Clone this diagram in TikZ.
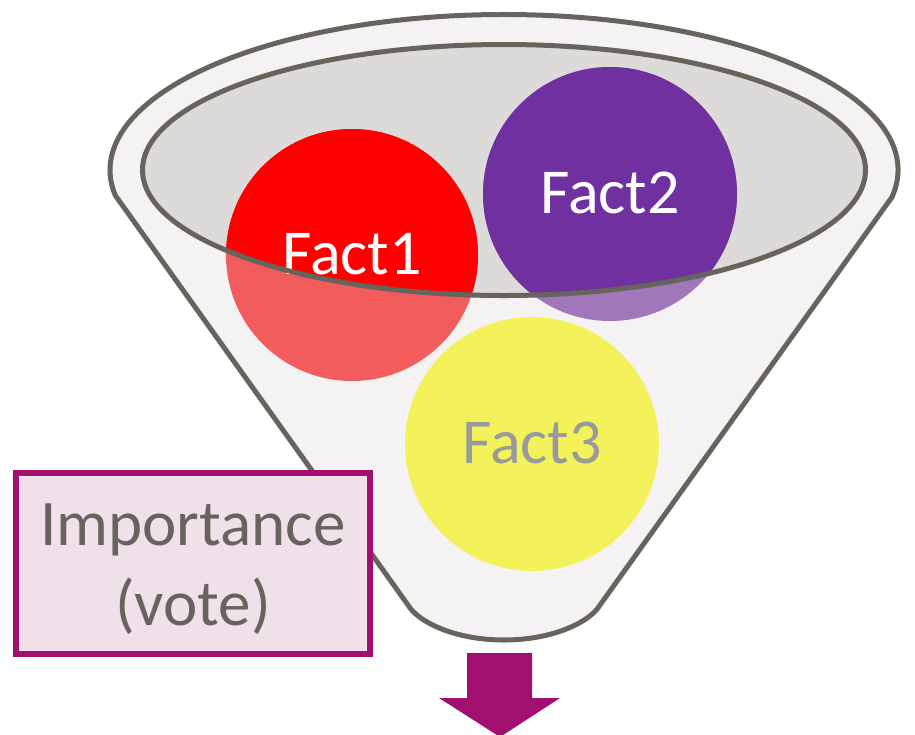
\documentclass[tikz,border=0pt]{standalone}
\usepackage{fontspec}
\setmainfont{Carlito}
\definecolor{edgegray}{HTML}{67645D}
\definecolor{funnelfill}{HTML}{F4F2F3}
\definecolor{rimfill}{HTML}{DCDBD9}
\definecolor{redfull}{HTML}{FF0000}
\definecolor{redlight}{HTML}{F35C5C}
\definecolor{purplefull}{HTML}{7030A0}
\definecolor{purplelight}{HTML}{A078BA}
\definecolor{yellowlight}{HTML}{F3F25A}
\definecolor{factgray}{HTML}{9A9A9A}
\definecolor{plum}{HTML}{A1106E}
\definecolor{boxfill}{HTML}{F0E0EA}
\tikzset{
  funnelline/.style={draw=edgegray, line width=5pt, line join=round},
  facttext/.style={font=\fontsize{64}{76}\selectfont, anchor=base, inner sep=0pt},
  votebox/.style={draw=plum, fill=boxfill, line width=6pt, minimum width=354pt,
    minimum height=181pt, align=center, text=edgegray, inner sep=0pt,
    font=\fontsize{65}{80}\selectfont},
}
\begin{document}
\begin{tikzpicture}[x=1pt,y=-1pt]
\useasboundingbox (0,0) rectangle (915,734);
% funnel body
\coordinate (lefttop) at (115,195);
\coordinate (leftbot) at (408,605);
\coordinate (bottom) at (504,640);
\coordinate (rightbot) at (600,605);
\coordinate (righttop) at (892,197);
\coordinate (rim) at (504,170);
\path[funnelline, fill=funnelfill] (lefttop) -- (leftbot)
  .. controls (418,622) and (455,640) .. (bottom)
  .. controls (553,640) and (590,622) .. (rightbot) -- (righttop)
  arc[start angle=-10, end angle=189.3, x radius=394pt, y radius=155.5pt] -- cycle;
% inner rim fill
\fill[rimfill] (rim) ellipse[x radius=361.5pt, y radius=125.5pt];
% facts
\coordinate (c1) at (352,255);
\coordinate (c2) at (610,194);
\coordinate (c3) at (532,444);
\fill[redlight] (c1) circle[radius=126pt];
\fill[purplelight] (c2) circle[radius=127pt];
\fill[yellowlight] (c3) circle[radius=127pt];
\begin{scope}
  \clip (rim) ellipse[x radius=361.5pt, y radius=125.5pt];
  \fill[redfull] (c1) circle[radius=126pt];
  \fill[purplefull] (c2) circle[radius=127pt];
\end{scope}
\node[facttext, text=white] (t1) at (352,274) {Fact1};
\node[facttext, text=white] (t2) at (610,213) {Fact2};
\node[facttext, text=factgray] (t3) at (532,463) {Fact3};
% inner rim outline
\draw[funnelline] (rim) ellipse[x radius=361.5pt, y radius=125.5pt];
% importance box
\node[votebox] (imp) at (193,563.5) {\rule{0pt}{52pt}Importance\\(vote)};
% output arrow
\fill[plum] (467,653) -- (532,653) -- (532,698) -- (560,698) -- (500,737)
  -- (439,698) -- (467,698) -- cycle;
\end{tikzpicture}
\end{document}
